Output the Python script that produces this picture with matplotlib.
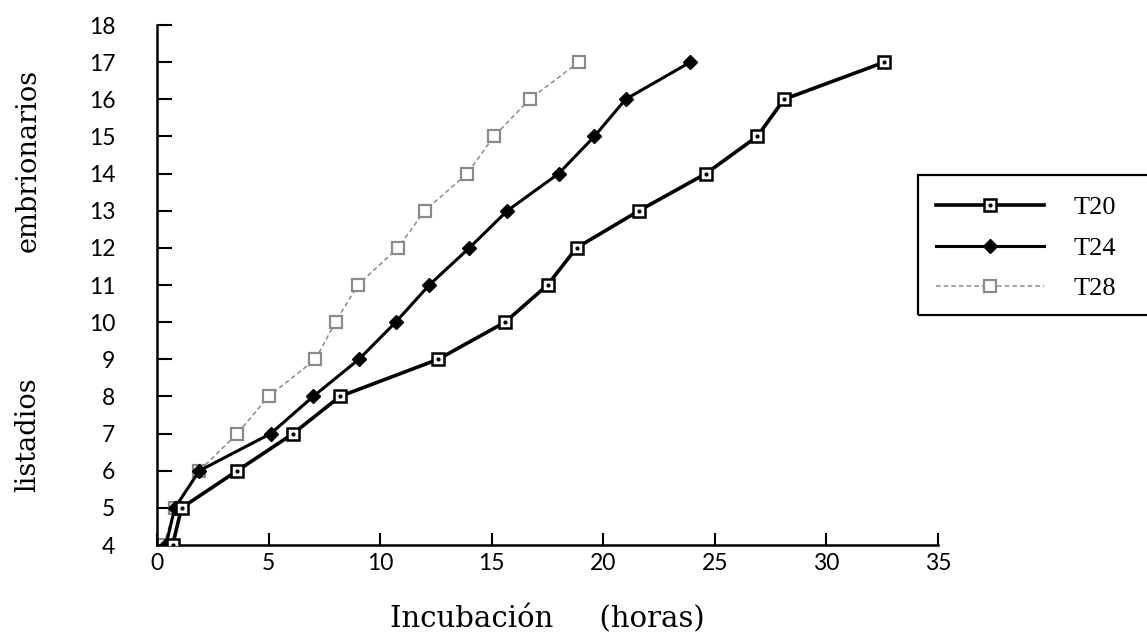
import matplotlib
matplotlib.use("Agg")
import matplotlib.pyplot as plt
from matplotlib.patches import Rectangle
from matplotlib.legend_handler import HandlerTuple

# estadios embrionarios (y) vs horas de incubacion (x)
stages = [4, 5, 6, 7, 8, 9, 10, 11, 12, 13, 14, 15, 16, 17]
hours_t20 = [0.7, 1.1, 3.6, 6.1, 8.2, 12.6, 15.6, 17.5, 18.8, 21.6, 24.6, 26.9, 28.1, 32.6]
hours_t24 = [0.4, 0.8, 1.9, 5.1, 7.0, 9.05, 10.7, 12.2, 14.0, 15.7, 18.0, 19.6, 21.0, 23.9]
hours_t28 = [0.3, 0.8, 1.9, 3.6, 5.0, 7.1, 8.0, 9.0, 10.8, 12.0, 13.9, 15.1, 16.7, 18.9]

xticks = [0, 5, 10, 15, 20, 25, 30, 35]
yticks = list(range(4, 19))
series_labels = ["T20", "T24", "T28"]

W, H = 1147, 639
fig = plt.figure(figsize=(W / 100, H / 100), dpi=100)
ax = fig.add_axes([157 / W, 1 - 545 / H, (938 - 157) / W, 520 / H])

l28, = ax.plot(hours_t28, stages, color="#8a8a8a", lw=1.1, ls=(0, (3, 2)),
               marker="s", ms=8, mfc="white", mec="#8a8a8a", mew=1.6, zorder=2)
l24, = ax.plot(hours_t24, stages, color="black", lw=2.2,
               marker="D", ms=7.5, mfc="black", mec="black", zorder=3)
l20, = ax.plot(hours_t20, stages, color="black", lw=2.6,
               marker="s", ms=9, mfc="white", mec="black", mew=1.8, zorder=4)
d20, = ax.plot(hours_t20, stages, ls="none", marker="o", ms=2, color="black", zorder=5)

ax.set_xlim(0, 35)
ax.set_ylim(4, 18)
ax.set_xticks(xticks)
ax.set_yticks(yticks)
for s in ["top", "right"]:
    ax.spines[s].set_visible(False)
for s in ["left", "bottom"]:
    ax.spines[s].set_linewidth(1.8)
ax.tick_params(axis="x", direction="in", length=9, width=1.5, pad=6, labelsize=16.5)
ax.tick_params(axis="y", direction="in", length=11, width=1.5, pad=30, labelsize=16.5)
for lab in ax.get_xticklabels() + ax.get_yticklabels():
    lab.set_family(["Lato", "DejaVu Sans"])

ax.set_xlabel("Incubación     (horas)", family="DejaVu Serif", fontsize=21)
ax.xaxis.set_label_coords(0.5, -0.113)

# y label: two words set far apart as in the scan
fig.text(28 / W, 1 - 160 / H, "embrionarios", rotation=90, ha="center", va="center",
         family="DejaVu Serif", fontsize=19.5)
fig.text(28 / W, 1 - 435 / H, "listadios", rotation=90, ha="center", va="center",
         family="DejaVu Serif", fontsize=19.5)

# legend box, cut at the right edge like the scan
fig.patches.append(Rectangle((918 / W, 1 - 315 / H), 300 / W, 140 / H,
                             transform=fig.transFigure, fill=False,
                             ec="black", lw=1.6, clip_on=False))
leg = fig.legend([(l20, d20), l24, l28], series_labels,
                 handler_map={tuple: HandlerTuple(ndivide=1)},
                 loc="upper left", bbox_to_anchor=(936 / W, 1 - 196 / H),
                 frameon=False, handlelength=4.1, handletextpad=1.1,
                 labelspacing=0.64, borderpad=0, borderaxespad=0,
                 prop={"family": "Liberation Serif", "size": 19})

fig.savefig("out.png", dpi=100)
